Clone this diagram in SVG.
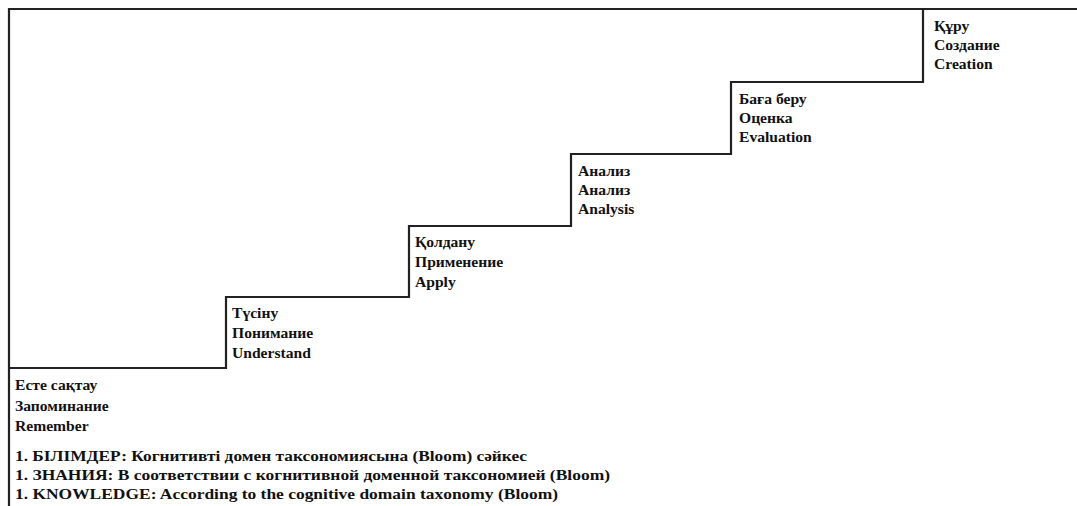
<svg xmlns="http://www.w3.org/2000/svg" width="1077" height="506" viewBox="0 0 1077 506">
<style>
text{font-family:"Liberation Serif","Times New Roman",serif;font-weight:bold;font-size:15.6px;fill:#111}
.cap{font-size:15px}
.ln{fill:none;stroke:#222;stroke-width:2.2}
</style>
<rect width="1077" height="506" fill="#fff"/>
<g id="connectors">
<path class="ln" d="M9,506 V9 H1077"/>
<path class="ln" d="M9,368 H226 V297 H409 V226 H571 V154 H731 V82 H923 V9"/>
</g>
<g id="remember"><text x="15" y="390">Есте сақтау</text><text x="15" y="411">Запоминание</text><text x="15" y="431">Remember</text></g>
<g id="understand"><text x="232" y="318">Түсіну</text><text x="232" y="338">Понимание</text><text x="232" y="358">Understand</text></g>
<g id="apply"><text x="415" y="247">Қолдану</text><text x="415" y="267">Применение</text><text x="415" y="287">Apply</text></g>
<g id="analysis"><text x="578" y="176">Анализ</text><text x="578" y="195">Анализ</text><text x="578" y="214">Analysis</text></g>
<g id="evaluation"><text x="739" y="104">Баға беру</text><text x="739" y="123">Оценка</text><text x="739" y="142">Evaluation</text></g>
<g id="creation"><text x="934" y="31">Құру</text><text x="934" y="50">Создание</text><text x="934" y="69">Creation</text></g>
<g id="caption"><text class="cap" x="15" y="461" textLength="512" lengthAdjust="spacingAndGlyphs">1. БІЛІМДЕР: Когнитивті домен таксономиясына (Bloom) сәйкес</text><text class="cap" x="15" y="480" textLength="595" lengthAdjust="spacingAndGlyphs">1. ЗНАНИЯ: В соответствии с когнитивной доменной таксономией (Bloom)</text><text class="cap" x="15" y="499" textLength="543" lengthAdjust="spacingAndGlyphs">1. KNOWLEDGE: According to the cognitive domain taxonomy (Bloom)</text></g>
</svg>
